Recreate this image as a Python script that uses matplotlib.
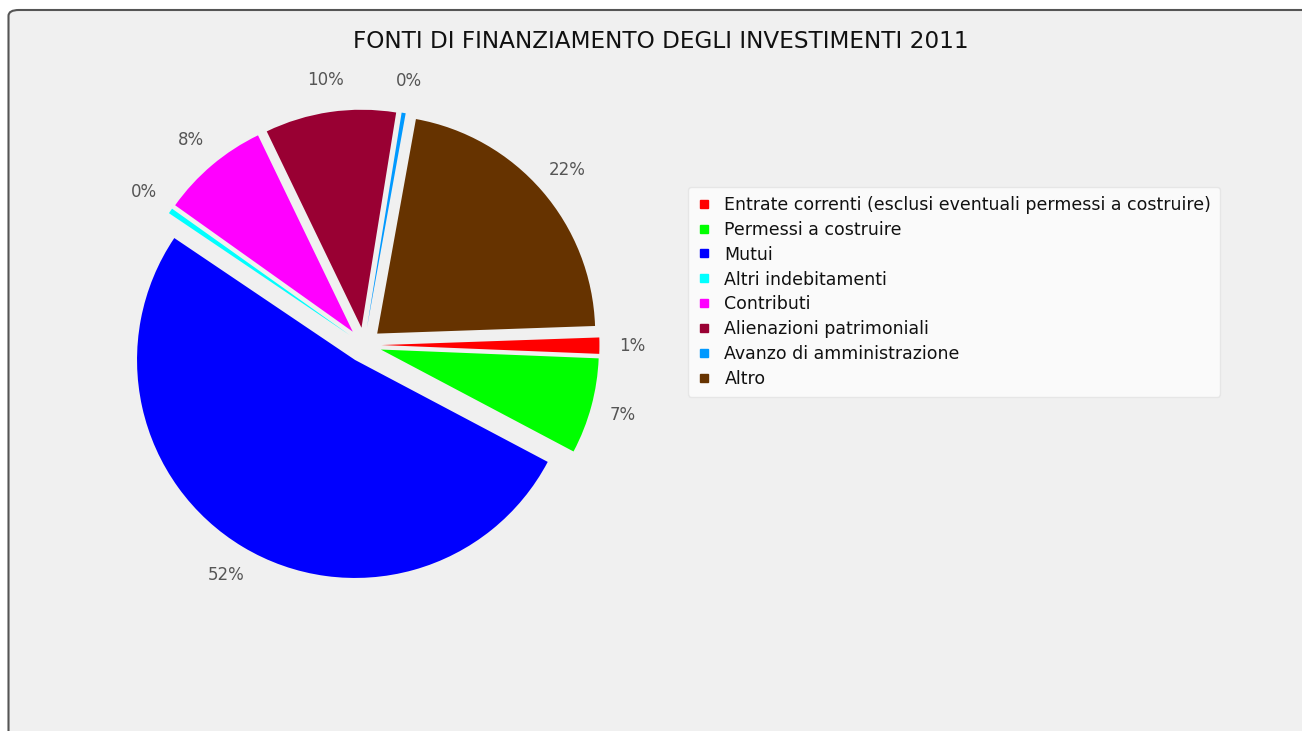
import matplotlib
matplotlib.use("Agg")
import matplotlib.pyplot as plt
from matplotlib.patches import FancyBboxPatch
from matplotlib.lines import Line2D

categories = [
    "Entrate correnti (esclusi eventuali permessi a costruire)",
    "Permessi a costruire",
    "Mutui",
    "Altri indebitamenti",
    "Contributi",
    "Alienazioni patrimoniali",
    "Avanzo di amministrazione",
    "Altro",
]
shares = [1.2, 7.1, 51.7, 0.4, 8.0, 9.7, 0.3, 21.6]
colors = ["#ff0000", "#00ff00", "#0000ff", "#00ffff",
          "#ff00ff", "#990033", "#0099ff", "#663300"]

W, H = 1302, 731
fig = plt.figure(figsize=(W / 100, H / 100), dpi=100)
fig.patch.set_facecolor("white")

# rounded panel frame
frame = FancyBboxPatch((8.5 / W, -20 / H), (W + 40) / W, (H + 10) / H,
                       boxstyle="round,pad=0,rounding_size=0.008",
                       transform=fig.transFigure, facecolor="#f0f0f0",
                       edgecolor="#555555", linewidth=1.5, zorder=-5)
fig.patches.append(frame)

fig.text(661 / W, 1 - 41 / H, "FONTI DI FINANZIAMENTO DEGLI INVESTIMENTI 2011",
         ha="center", va="center", fontsize=16.7, color="#111111")

# pie: centre ~ (364, 345) px, radius ~ 218 px
R = 218
half = 1.4 * R
ax = fig.add_axes([(364 - half) / W, (H - 345 - half) / H, 2 * half / W, 2 * half / H])
ax.set_zorder(2)

wedges, texts, autotexts = ax.pie(
    shares, colors=colors, startangle=2, counterclock=False,
    explode=[0.08] * len(shares), autopct="%.0f%%", pctdistance=1.15,
    wedgeprops=dict(linewidth=0), textprops=dict(color="#555555", fontsize=12))
ax.set_xlim(-1.4, 1.4)
ax.set_ylim(-1.4, 1.4)
ax.set_aspect("equal")
ax.axis("off")

# legend with small square markers
handles = [Line2D([0], [0], marker="s", linestyle="none", markersize=6,
                  markerfacecolor=c, markeredgecolor=c) for c in colors]
leg = fig.legend(handles, categories, loc="upper left",
                 bbox_to_anchor=(688 / W, 1 - 187 / H),
                 frameon=True, fancybox=True, shadow=False,
                 facecolor="#fafafa", edgecolor="#e6e6e6", framealpha=1,
                 fontsize=12.5, handlelength=0.8, handletextpad=0.8,
                 labelspacing=0.4, borderpad=0.5, borderaxespad=0)
for t in leg.get_texts():
    t.set_color("#111111")

fig.savefig("out.png", dpi=100)
